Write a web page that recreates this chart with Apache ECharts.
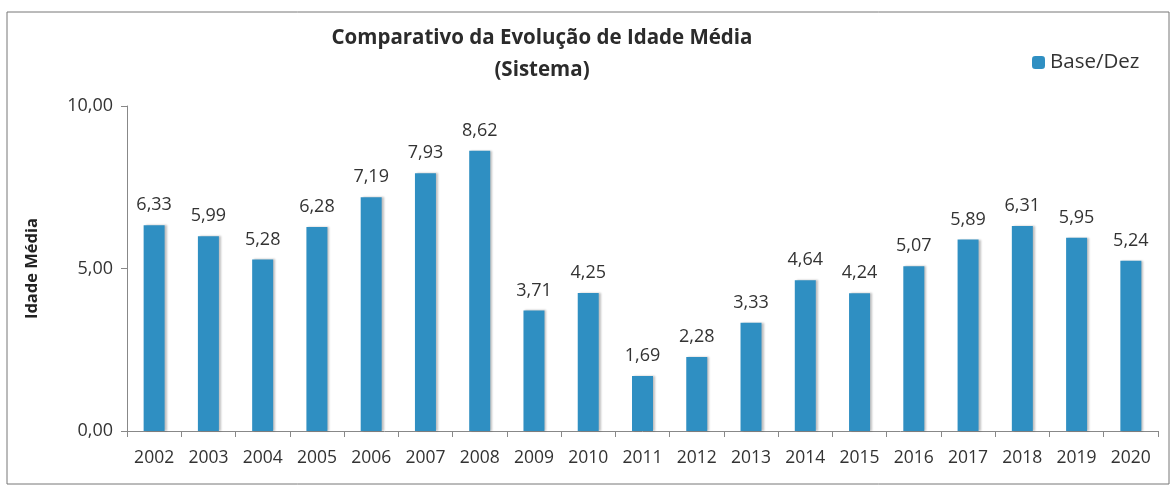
<!DOCTYPE html>
<html>
<head>
<meta charset="utf-8">
<script src="https://cdn.jsdelivr.net/npm/echarts@6/dist/echarts.min.js"></script>
<style>
html,body{margin:0;padding:0;background:#fff;}
#main{width:1174px;height:487px;}
</style>
</head>
<body>
<div id="main"></div>
<script>
var anos=['2002','2003','2004','2005','2006','2007','2008','2009','2010','2011','2012','2013','2014','2015','2016','2017','2018','2019','2020'];
var baseDez=[6.33,5.99,5.28,6.28,7.19,7.93,8.62,3.71,4.25,1.69,2.28,3.33,4.64,4.24,5.07,5.89,6.31,5.95,5.24];
var yTicks=[0,5,10];

var fonte='"Open Sans","Noto Sans",sans-serif';
var myChart=echarts.init(document.getElementById('main'));
var option={
	backgroundColor:'#fff',
	graphic:[{
		type:'rect',
		shape:{x:7,y:12,width:1162,height:472},
		style:{fill:'none',stroke:'#777',lineWidth:1},
		silent:true
	}],
	title:{
		text:'Comparativo da Evolução de Idade Média\n(Sistema)',
		left:537,
		top:17,
		textAlign:'center',
		textStyle:{fontFamily:fonte,fontSize:20.5,fontWeight:'bold',color:'#2b2b2b',lineHeight:32}
	},
	legend:{
		data:['Base/Dez'],
		left:1027,
		top:47,
		itemWidth:13,
		itemHeight:13,
		itemGap:7,
		textStyle:{fontFamily:fonte,fontSize:20.5,color:'#333'}
	},
	grid:{left:127,right:16,top:106,bottom:56},
	xAxis:{
		type:'category',
		data:anos,
		axisLine:{lineStyle:{color:'#888'}},
		axisTick:{show:true,length:6,lineStyle:{color:'#888'}},
		axisLabel:{fontFamily:fonte,fontSize:17.5,color:'#333',margin:18,interval:0}
	},
	yAxis:{
		type:'value',
		min:0,
		max:10,
		interval:5,
		name:'Idade Média',
		nameLocation:'middle',
		nameGap:86,
		nameTextStyle:{fontFamily:fonte,fontSize:16.5,fontWeight:'bold',color:'#222'},
		axisLine:{show:true,lineStyle:{color:'#888'}},
		axisTick:{show:true,length:6,lineStyle:{color:'#888'}},
		splitLine:{show:false},
		axisLabel:{
			fontFamily:fonte,fontSize:18,color:'#333',margin:14,
			formatter:function(v){
				if(yTicks.indexOf(v)<0) return '';
				return v.toFixed(2).replace('.',',');
			}
		}
	},
	series:[{
		name:'Base/Dez',
		type:'bar',
		data:baseDez,
		barWidth:21,
		itemStyle:{color:'#2f8fc2',shadowColor:'rgba(0,0,0,0.25)',shadowOffsetX:2,shadowBlur:2},
		label:{
			show:true,
			position:'top',
			distance:11,
			fontFamily:fonte,
			fontSize:18,
			color:'#333',
			formatter:function(p){return p.value.toFixed(2).replace('.',',');}
		}
	}]
};
myChart.setOption(option);
</script>
</body>
</html>
